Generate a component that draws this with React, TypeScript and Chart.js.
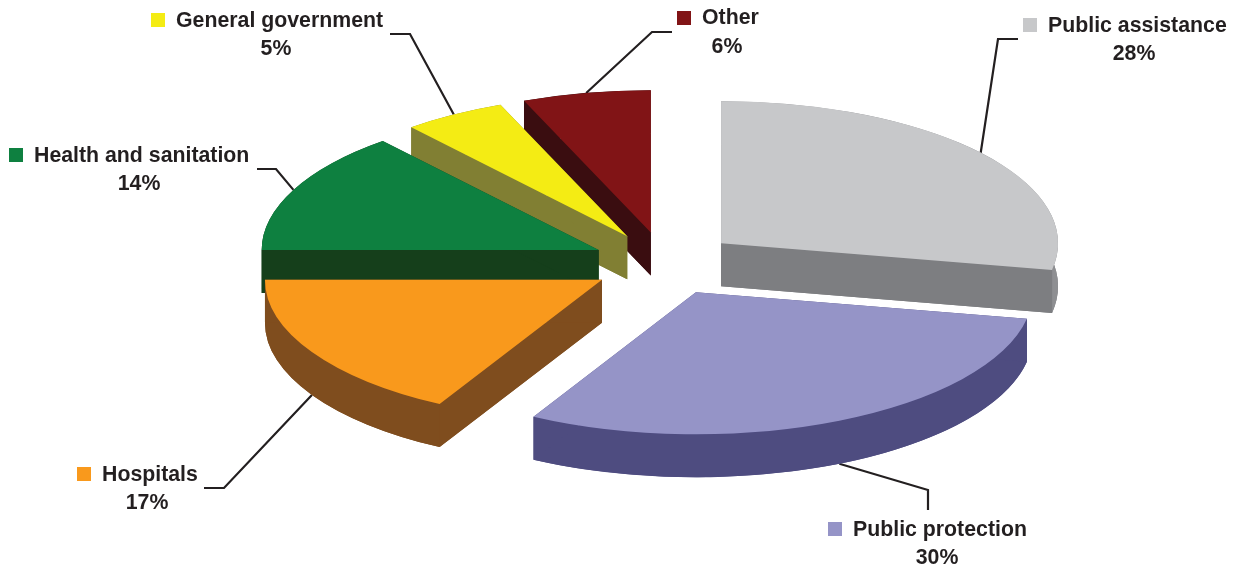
import React, { useEffect, useRef } from "react";
import { Chart, PieController, ArcElement } from "chart.js";

const categories = ["Public assistance", "Public protection", "Hospitals", "Health and sanitation", "General government", "Other"];
const shares = [28, 30, 17, 13.93, 4.93, 6.14];
const topColors = ["#C7C8CA", "#9594C7", "#F9991C", "#0E8040", "#F4EC14", "#811416"];
const wallColors = ["#7D7E81", "#4E4C80", "#7F4D1E", "#153F1B", "#817F33", "#3A0D10"];
const rimColors = ["#8E8F92", "#4E4C80", "#7F4D1E", "#153F1B", "#817F33", "#3A0D10"];
const drawOrder = [5, 4, 3, 0, 2, 1];

// Projection of the exploded pie
const CENTER_X = 664.8;
const CENTER_Y = 263.5;
const RADIUS = 337;
const SQUASH = 0.4215;
const EXPLODE = 73;
const EXPLODE_SQUASH = 0.434;
const DEPTH = 43;

// Label layout: swatch left/top, name left/baseline, percent centre/baseline
const labelLayout = [
  { sx: 1023, sy: 18, tx: 1048, ty: 32, px: 1134, py: 60 },
  { sx: 828, sy: 522, tx: 853, ty: 536, px: 937, py: 564 },
  { sx: 77, sy: 467, tx: 102, ty: 481, px: 147, py: 509 },
  { sx: 9, sy: 148, tx: 34, ty: 162, px: 139, py: 190 },
  { sx: 151, sy: 13, tx: 176, ty: 27, px: 276, py: 55 },
  { sx: 677, sy: 11, tx: 702, ty: 24, px: 727, py: 53 },
];
// Leader elbows and ends, in page pixels
const leaderLayout = [
  [[998, 39], [1018, 39]],
  [[928, 490], [928, 510]],
  [[224, 488], [204, 488]],
  [[276, 169], [257, 169]],
  [[410, 34], [390, 34]],
  [[652, 32], [672, 32]],
];

const midAngle = (arc: any) => (arc.startAngle + arc.endAngle) / 2;
const apexOf = (arc: any) => {
  const mid = midAngle(arc);
  return {
    x: CENTER_X + Math.cos(mid) * EXPLODE,
    y: CENTER_Y + Math.sin(mid) * EXPLODE * EXPLODE_SQUASH,
  };
};

class Pie3DController extends PieController {
  static id = "pie3d";
  draw() {
    const ctx = this.chart.ctx;
    const arcs: any[] = this.getMeta().data as any[];
    for (const i of drawOrder) {
      const arc = arcs[i];
      const { x: ox, y: oy } = apexOf(arc);
      const R = arc.outerRadius;
      const ry = R * SQUASH;
      const a0 = arc.startAngle;
      const a1 = arc.endAngle;
      ctx.save();
      // bottom face
      ctx.fillStyle = wallColors[i];
      ctx.beginPath();
      ctx.moveTo(ox, oy + DEPTH);
      ctx.ellipse(ox, oy + DEPTH, R, ry, 0, a0, a1);
      ctx.closePath();
      ctx.fill();
      // outer rim
      ctx.fillStyle = rimColors[i];
      ctx.beginPath();
      ctx.ellipse(ox, oy, R, ry, 0, a0, a1);
      ctx.ellipse(ox, oy + DEPTH, R, ry, 0, a1, a0, true);
      ctx.closePath();
      ctx.fill();
      // radial walls
      ctx.fillStyle = wallColors[i];
      for (const a of [a0, a1]) {
        const ex = ox + Math.cos(a) * R;
        const ey = oy + Math.sin(a) * ry;
        ctx.beginPath();
        ctx.moveTo(ox, oy);
        ctx.lineTo(ex, ey);
        ctx.lineTo(ex, ey + DEPTH);
        ctx.lineTo(ox, oy + DEPTH);
        ctx.closePath();
        ctx.fill();
      }
      // top face
      ctx.translate(ox, oy);
      ctx.scale(1, SQUASH);
      ctx.translate(-arc.x, -arc.y);
      arc.draw(ctx);
      ctx.restore();
    }
  }
}

const annotationPlugin = {
  id: "annotations",
  beforeDatasetsDraw(chart: any) {
    const ctx = chart.ctx;
    const arcs = chart.getDatasetMeta(0).data;
    ctx.save();
    ctx.strokeStyle = "#231F20";
    ctx.lineWidth = 2.2;
    ctx.lineJoin = "miter";
    arcs.forEach((arc: any, i: number) => {
      const mid = midAngle(arc);
      const apex = apexOf(arc);
      const x = apex.x + Math.cos(mid) * arc.outerRadius;
      const y = apex.y + Math.sin(mid) * arc.outerRadius * SQUASH + (Math.sin(mid) > 0 ? DEPTH : 0);
      ctx.beginPath();
      ctx.moveTo(x, y);
      for (const [lx, ly] of leaderLayout[i]) ctx.lineTo(lx, ly);
      ctx.stroke();
    });
    ctx.restore();
  },
  afterDatasetsDraw(chart: any) {
    const ctx = chart.ctx;
    ctx.save();
    ctx.font = 'bold 21.3px "Liberation Sans", Arial, sans-serif';
    ctx.textBaseline = "alphabetic";
    categories.forEach((name, i) => {
      const l = labelLayout[i];
      ctx.fillStyle = topColors[i];
      ctx.fillRect(l.sx, l.sy, 14, 14);
      ctx.fillStyle = "#231F20";
      ctx.textAlign = "left";
      ctx.fillText(name, l.tx, l.ty);
      ctx.textAlign = "center";
      ctx.fillText(`${Math.round(shares[i])}%`, l.px, l.py);
    });
    ctx.restore();
  },
};

Chart.register(Pie3DController, ArcElement);

export default function App() {
  const ref = useRef<HTMLCanvasElement>(null);
  useEffect(() => {
    const chart = new Chart(ref.current!, {
      type: "pie3d" as any,
      data: {
        labels: categories,
        datasets: [{ data: shares, backgroundColor: topColors, borderWidth: 0 }],
      },
      options: {
        responsive: false,
        animation: false,
        events: [],
        radius: RADIUS,
        layout: { padding: 0 },
        plugins: { legend: { display: false }, tooltip: { enabled: false } },
      } as any,
      plugins: [annotationPlugin as any],
    });
    return () => chart.destroy();
  }, []);
  return (
    <div style={{ position: "absolute", left: 0, top: 0, width: 1240, height: 565, background: "#fff" }}>
      <canvas ref={ref} width={1240} height={565} style={{ display: "block" }} />
    </div>
  );
}
